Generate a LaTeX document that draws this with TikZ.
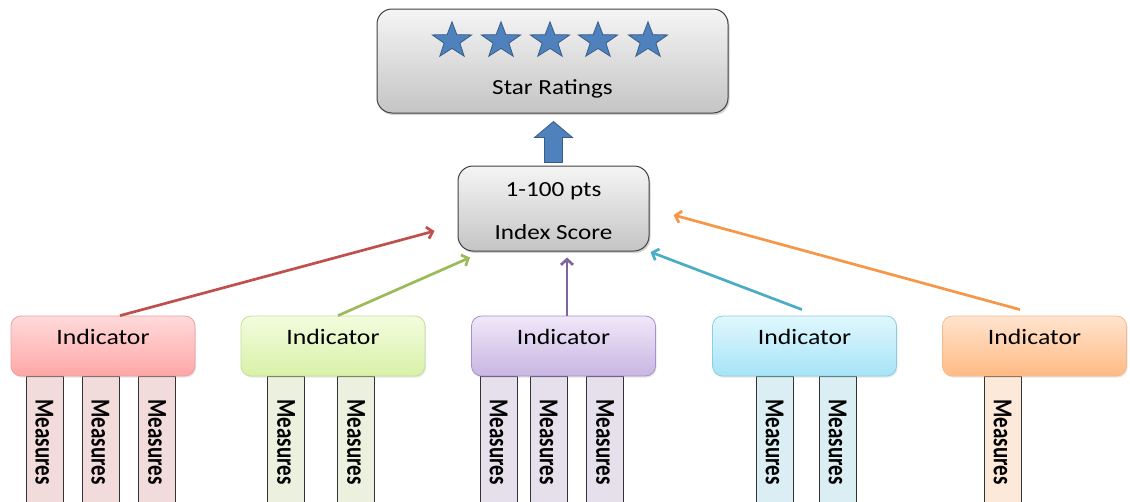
\documentclass[tikz,border=0pt]{standalone}
\usepackage{fontspec}
\setmainfont{Carlito}[FakeStretch=1.17]
\newfontfamily\mfont{Carlito}
\usetikzlibrary{shapes.geometric,arrows.meta,shadows}
\definecolor{redA}{HTML}{FFDADA}\definecolor{redB}{HTML}{FFA6A6}\definecolor{redL}{HTML}{E6A3A3}\definecolor{redM}{HTML}{F2DCDB}\definecolor{redC}{HTML}{C0504D}
\definecolor{greenA}{HTML}{F3FCDE}\definecolor{greenB}{HTML}{D8F1A7}\definecolor{greenL}{HTML}{C5DE9D}\definecolor{greenM}{HTML}{EBF1DE}\definecolor{greenC}{HTML}{9BBB59}
\definecolor{purpleA}{HTML}{F0E8F9}\definecolor{purpleB}{HTML}{C9B5E2}\definecolor{purpleL}{HTML}{A98FCB}\definecolor{purpleM}{HTML}{E5E0EC}\definecolor{purpleC}{HTML}{8064A2}
\definecolor{blueA}{HTML}{E0F7FD}\definecolor{blueB}{HTML}{A6E4F7}\definecolor{blueL}{HTML}{8ACEE0}\definecolor{blueM}{HTML}{DBEEF3}\definecolor{blueC}{HTML}{4BACC6}
\definecolor{orangeA}{HTML}{FFE4CF}\definecolor{orangeB}{HTML}{FFBA83}\definecolor{orangeL}{HTML}{F7B98B}\definecolor{orangeM}{HTML}{FDE9D9}\definecolor{orangeC}{HTML}{F79646}
\definecolor{starblue}{HTML}{4F81BD}\definecolor{starline}{HTML}{385D8A}
\newcommand\mtext{\rotatebox{-90}{\scalebox{1}[1.3]{Measures}}}
\begin{document}
\begin{tikzpicture}[x=1pt,y=-1pt,
  gbox/.style={draw=black!75, line width=1pt, rounded corners=15pt, top color=black!4, bottom color=black!23,
    drop shadow={shadow xshift=1.5pt,shadow yshift=-2pt,opacity=0.35}},
  gtext/.style={anchor=base, inner sep=0pt, font=\fontsize{21.5}{26}\selectfont},
  ind/.style={draw=#1L, line width=0.8pt, rounded corners=10pt, top color=#1A, bottom color=#1B,
    minimum width=184pt, minimum height=60pt, font=\fontsize{22}{26}\selectfont,
    text height=16pt, text depth=20pt, inner sep=0pt,
    drop shadow={shadow xshift=1pt,shadow yshift=-1.5pt,opacity=0.2}},
  meas/.style={draw=black!80, line width=0.8pt, fill=#1M, minimum width=37pt, minimum height=132pt,
    inner sep=0pt, font=\mfont\fontsize{21}{24}\bfseries\selectfont},
  con/.style={draw=#1C, line width=2.7pt, -{Straight Barb[length=5.5pt,width=12pt]}},
  starshape/.style={star, star points=5, star point ratio=2.5, minimum size=38pt, inner sep=0pt,
    fill=starblue, draw=starline, line width=0.8pt, xscale=1.09}
]
\useasboundingbox (0,0) rectangle (1130,501);
\clip (0,0) rectangle (1130,501);

% top box
\node[gbox, minimum width=351pt, minimum height=104pt] (star) at (552.5,61) {};
\foreach \x [count=\i] in {452,501,550,598,648}
  \node[starshape] (s\i) at (\x,40.8) {};
\node[gtext] (starlbl) at (552.5,94) {Star Ratings};

% index box
\node[gbox, minimum width=191pt, minimum height=85pt] (idx) at (553.5,208.5) {};
\node[gtext] (pts) at (553.5,196) {1-100 pts};
\node[gtext] (idxlbl) at (553.5,239.5) {Index Score};

% block arrow
\filldraw[fill=starblue, draw=starline, line width=0.8pt]
  (idx.north) ++(-9,-3) -- ++(0,-25) -- ++(-10,0) -- ++(19,-16) -- ++(19,16) -- ++(-10,0) -- ++(0,25) -- cycle;

% measures
\foreach \x/\c [count=\i] in {44.5/red,100.5/red,157/red,286/green,356/green,498.5/purple,548.5/purple,605/purple,774.5/blue,837.5/blue,1002.5/orange}
  \node[meas=\c] (m\i) at (\x,442) {\mtext};

% indicators
\node[ind=red]    (ind1) at (103,346)   {Indicator};
\node[ind=green]  (ind2) at (333,346)   {Indicator};
\node[ind=purple] (ind3) at (563.5,346) {Indicator};
\node[ind=blue]   (ind4) at (804.5,346) {Indicator};
\node[ind=orange] (ind5) at (1034.5,346){Indicator};

% connectors
\draw[con=red]    ([xshift=17pt]ind1.north) -- ([shift={(-23pt,-22.5pt)}]idx.west);
\draw[con=green]  ([xshift=5pt]ind2.north) -- ([shift={(-83.5pt,-6pt)}]idx.south);
\draw[con=purple] ([xshift=3.5pt]ind3.north) -- ([shift={(13.5pt,-6pt)}]idx.south);
\draw[con=blue]   ([shift={(-2.5pt,6pt)}]ind4.north) -- ([shift={(1pt,-43.5pt)}]idx.east);
\draw[con=orange] ([shift={(-14.5pt,6pt)}]ind5.north) -- ([shift={(24pt,-6.5pt)}]idx.east);
\end{tikzpicture}
\end{document}
